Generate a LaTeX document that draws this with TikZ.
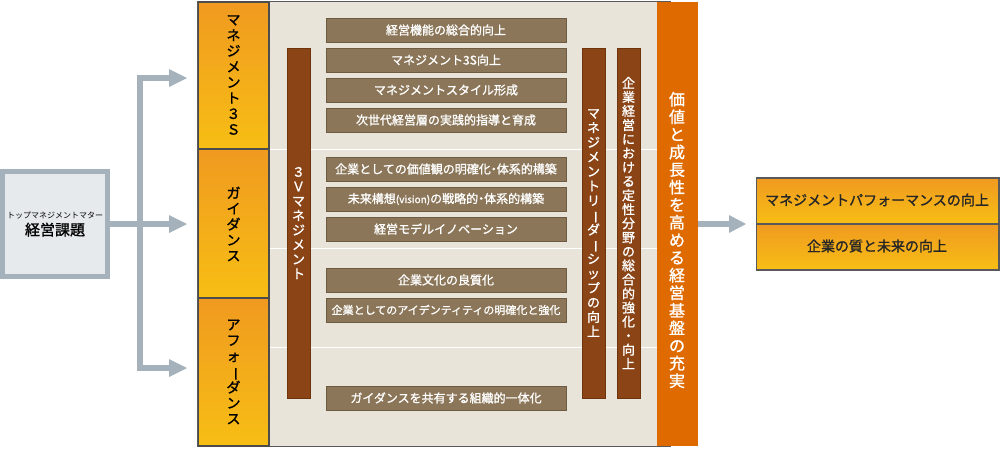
\documentclass[tikz,border=0pt]{standalone}
\usepackage{fontspec}
\usepackage{graphicx}
\setmainfont[AutoFakeBold=1.2]{Noto Sans CJK JP}
\usetikzlibrary{arrows.meta}
\definecolor{gl}{HTML}{A5B2BC}
\definecolor{glf}{HTML}{E6EAEC}
\definecolor{oa}{HTML}{F09A20}
\definecolor{ob}{HTML}{F7BE14}
\definecolor{bei}{HTML}{E9E4DA}
\definecolor{bar}{HTML}{8A4416}
\definecolor{barb}{HTML}{6E340C}
\definecolor{bx}{HTML}{8C7659}
\definecolor{bxb}{HTML}{6F5B41}
\definecolor{oc}{HTML}{DE6A00}
\makeatletter
\def\vstk#1{\vstkA#1\relax}
\def\vstkA#1{\ifx#1\relax\else\hbox to 1.1em{\hss\ifx#1ー\rotatebox[origin=c]{-90}{ー}\else#1\fi\hss}\expandafter\vstkA\fi}
\newcommand\vtext[2][1.12em]{\vbox{\baselineskip=#1\lineskiplimit=-20pt\vstk{#2}}}
\makeatother
\begin{document}
\begin{tikzpicture}[x=1pt,y=-1pt,
  ob/.style={draw=#1,line width=1.5pt,top color=oa,bottom color=ob},
  brn/.style={draw=bxb,line width=1pt,fill=bx,text=white,font=\fontsize{12}{14}\selectfont\bfseries,minimum width=240pt,minimum height=24pt,inner sep=0pt},
  vbar/.style={draw=barb,line width=1pt,fill=bar,text=white,minimum width=23pt,minimum height=350pt,inner sep=0pt},
  conn/.style={draw=gl,line width=6pt},
  tip/.style={fill=gl,draw=none}]
\useasboundingbox (0,0) rectangle (1000,450);
% left box
\node[draw=gl,line width=5pt,fill=glf,minimum width=105pt,minimum height=105pt,inner sep=0pt,align=center] (src) at (55,224)
 {{\fontsize{8}{10}\selectfont トップマネジメントマター}\\[3pt]{\fontsize{15}{18}\selectfont\bfseries 経営課題}};
% main frame
\draw[draw=gray!70!black,line width=1pt] (197.5,1.5) rectangle (670,446);
\fill[bei] (269,2) rectangle (657,446);
\foreach \yy in {149,248,347} \draw[white,line width=1pt] (269,\yy) -- (657,\yy);
\draw[ob=gray!60!black] (198.5,2) rectangle (269,149);
\draw[ob=gray!60!black] (198.5,149) rectangle (269,298);
\draw[ob=gray!60!black] (198.5,298) rectangle (269,446);
\node (c1) at (233.5,75) {\fontsize{14}{16}\selectfont\bfseries\vtext{マネジメント３Ｓ}};
\node (c2) at (233.5,224) {\fontsize{14}{16}\selectfont\bfseries\vtext{ガイダンス}};
\node (c3) at (233.5,372) {\fontsize{14}{16}\selectfont\bfseries\vtext{アフォーダンス}};
% arrows
\coordinate (j) at (140,224);
\draw[conn] (src.east) -- (j);
\draw[conn] (140,78) -- (140,368);
\draw[conn] (137,78) -- (172,78);
\draw[conn] (j) -- (172,224);
\draw[conn] (137,368) -- (172,368);
\foreach \yy in {78,224,368} \fill[gl] (169,\yy-9) -- (187,\yy) -- (169,\yy+9) -- cycle;
% bars
\node[vbar] (v3) at (298.5,223) {\fontsize{13}{15}\selectfont\bfseries\vtext{３Ｖマネジメント}};
\node[vbar] (vl) at (593.5,223) {\fontsize{13}{15}\selectfont\bfseries\vtext{マネジメントリーダーシップの向上}};
\node[vbar] (vk) at (628.5,223) {\fontsize{13}{15}\selectfont\bfseries\vtext[1.08em]{企業経営における定性分野の総合的強化・向上}};
% brown boxes
\node[brn] (b1) at (446,30) {経営機能の総合的向上};
\node[brn] (b2) at (446,60) {マネジメント3S向上};
\node[brn] (b3) at (446,90) {マネジメントスタイル形成};
\node[brn] (b4) at (446,120) {次世代経営層の実践的指導と育成};
\node[brn] (b5) at (446,169) {企業としての価値観の明確化{\kern-3pt}・{\kern-3pt}体系的構築};
\node[brn] (b6) at (446,199) {未来構想{\fontsize{10}{12}\selectfont (vision)}の戦略的{\kern-3pt}・{\kern-3pt}体系的構築};
\node[brn] (b7) at (446,229) {経営モデルイノベーション};
\node[brn] (b8) at (446,280) {企業文化の良質化};
\node[brn,font=\fontsize{11}{13}\selectfont\bfseries] (b9) at (446,310) {企業としてのアイデンティティの明確化と強化};
\node[brn] (b10) at (446,398) {ガイダンスを共有する組織的一体化};
% orange column
\fill[oc] (657,2) rectangle (697.5,446);
\node[text=white] (oc1) at (677,240) {\fontsize{16}{18}\selectfont\bfseries\vtext[1.1em]{価値と成長性を高める経営基盤の充実}};
% right boxes
\coordinate (oe) at (698,224);
\draw[conn] (oe) -- (732,224);
\fill[gl] (729,215) -- (746,224) -- (729,233) -- cycle;
\draw[ob=gray!70!black] (756.5,178) rectangle (999,224);
\draw[ob=gray!70!black] (756.5,224) rectangle (999,270);
\node[font=\fontsize{14}{16}\selectfont\bfseries,text=black!85] (r1) at (877,200) {マネジメントパフォーマンスの向上};
\node[font=\fontsize{14}{16}\selectfont\bfseries,text=black!85] (r2) at (877,246) {企業の質と未来の向上};
\end{tikzpicture}
\end{document}
